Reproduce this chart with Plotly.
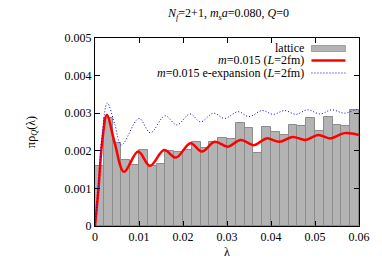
import plotly.graph_objects as go

# ---- data ----
bin_centers = [0.001, 0.003, 0.005, 0.007, 0.009, 0.011, 0.013, 0.015, 0.017, 0.019,
               0.021, 0.023, 0.025, 0.027, 0.029, 0.031, 0.033, 0.035, 0.037, 0.039,
               0.041, 0.043, 0.045, 0.047, 0.049, 0.051, 0.053, 0.055, 0.057, 0.059]
lattice = [0.00160, 0.00287, 0.00221, 0.00176, 0.00162, 0.00202, 0.00160, 0.00165, 0.00199, 0.00197,
           0.00202, 0.00223, 0.00207, 0.00223, 0.00234, 0.00231, 0.00274, 0.00261, 0.00194, 0.00263,
           0.00250, 0.00242, 0.00269, 0.00266, 0.00287, 0.00253, 0.00290, 0.00269, 0.00266, 0.00309]
bin_width = 0.002

red_lam = [0, 0.0008, 0.0016, 0.0027, 0.0045, 0.0066, 0.0098, 0.0125, 0.0157, 0.0184,
           0.0217, 0.0243, 0.0272, 0.0302, 0.0331, 0.0361, 0.0390, 0.0419, 0.0449, 0.0478,
           0.0508, 0.0534, 0.0567, 0.0600]
red_val = [0, 0.00100, 0.00220, 0.00295, 0.00220, 0.00144, 0.00198, 0.00160, 0.00202, 0.00182,
           0.00220, 0.00198, 0.00224, 0.00211, 0.00229, 0.00215, 0.00233, 0.00224, 0.00237, 0.00229,
           0.00242, 0.00233, 0.00247, 0.00242]

blue_lam = [0, 0.0008, 0.0016, 0.0028, 0.0045, 0.0060, 0.0100, 0.0126, 0.0159, 0.0186,
            0.0216, 0.0240, 0.0269, 0.0295, 0.0325, 0.0350, 0.0380, 0.0405, 0.0431, 0.0457,
            0.0483, 0.0512, 0.0538, 0.0567, 0.0593, 0.0600]
blue_val = [0, 0.00110, 0.00240, 0.00327, 0.00270, 0.00215, 0.00286, 0.00248, 0.00293, 0.00269,
            0.00298, 0.00277, 0.00300, 0.00286, 0.00304, 0.00291, 0.00307, 0.00297, 0.00307, 0.00297,
            0.00309, 0.00298, 0.00309, 0.00300, 0.00309, 0.00308]

x_ticks = [0, 0.01, 0.02, 0.03, 0.04, 0.05, 0.06]
x_ticktext = ["0", "0.01", "0.02", "0.03", "0.04", "0.05", "0.06"]
y_ticks = [0, 0.001, 0.002, 0.003, 0.004, 0.005]
y_ticktext = ["0", "0.001", "0.002", "0.003", "0.004", "0.005"]

legend_labels = ["lattice", "<i>m</i>=0.015 (<i>L</i>=2fm)", "<i>m</i>=0.015 e-expansion (<i>L</i>=2fm)"]

FONT = "Liberation Serif, Times New Roman, DejaVu Serif, serif"
BLUE_DASH = "1px,2px"

fig = go.Figure()
fig.add_trace(go.Bar(x=bin_centers, y=lattice, width=bin_width,
                     marker=dict(color="#b3b3b3", line=dict(color="#8c8c8c", width=1)),
                     name=legend_labels[0]))
fig.add_trace(go.Scatter(x=red_lam, y=red_val, mode="lines",
                         line=dict(color="#ff0000", width=2.5, shape="spline"),
                         name=legend_labels[1]))
fig.add_trace(go.Scatter(x=blue_lam, y=blue_val, mode="lines",
                         line=dict(color="#0000ff", width=1, dash=BLUE_DASH, shape="spline"),
                         name=legend_labels[2]))

# page body has an 8px margin, so the figure is drawn 8px smaller and offset
W, H = 374, 259
L, R, T, B = 87, 15, 30, 41
pw, ph = W - L - R, H - T - B
REF_L, REF_T = 95, 38  # plot-area origin in the reference image


def px(x):
    return (x - REF_L) / pw


def py(y):
    return (REF_T + ph - y) / ph


axis_common = dict(showline=True, linecolor="black", linewidth=1, mirror="allticks",
                   ticks="inside", ticklen=5, tickcolor="black", showgrid=False, zeroline=False,
                   tickfont=dict(family=FONT, size=12, color="black"))

fig.update_layout(
    width=W, height=H, margin=dict(l=L, r=R, t=T, b=B),
    plot_bgcolor="white", paper_bgcolor="white", showlegend=False, bargap=0,
    xaxis=dict(range=[0, 0.06], tickvals=x_ticks, ticktext=x_ticktext, **axis_common),
    yaxis=dict(range=[0, 0.005], tickvals=y_ticks, ticktext=y_ticktext, **axis_common),
    font=dict(family=FONT, size=12, color="black"),
)

annotations = [
    dict(text="<i>N</i><sub><i>f</i></sub>=2+1, <i>m</i><sub><i>s</i></sub><i>a</i>=0.080, <i>Q</i>=0",
         xref="paper", yref="paper", x=px(232), y=py(14), showarrow=False,
         xanchor="center", yanchor="middle", font=dict(family=FONT, size=12)),
    dict(text="πρ<sub><i>Q</i></sub>(λ)", xref="paper", yref="paper", x=px(30), y=py(132),
         textangle=-90, showarrow=False, xanchor="center", yanchor="middle",
         font=dict(family=FONT, size=12)),
    dict(text="λ", xref="paper", yref="paper", x=px(231), y=py(252), showarrow=False,
         xanchor="center", yanchor="middle", font=dict(family=FONT, size=12)),
]
legend_y = [48, 60.5, 73]
for lbl, yy in zip(legend_labels, legend_y):
    annotations.append(dict(text=lbl, xref="paper", yref="paper", x=px(312), y=py(yy),
                            showarrow=False, xanchor="right", yanchor="middle",
                            font=dict(family=FONT, size=12)))
fig.update_layout(annotations=annotations)

shapes = [
    dict(type="rect", xref="paper", yref="paper", x0=px(318), x1=px(353), y0=py(45.5), y1=py(51.5),
         fillcolor="#b3b3b3", line=dict(color="#a0a0a0", width=1)),
    dict(type="line", xref="paper", yref="paper", x0=px(318), x1=px(353), y0=py(60.5), y1=py(60.5),
         line=dict(color="#ff0000", width=2.5)),
    dict(type="line", xref="paper", yref="paper", x0=px(318), x1=px(353), y0=py(73), y1=py(73),
         line=dict(color="#0000ff", width=1, dash=BLUE_DASH)),
]
fig.update_layout(shapes=shapes)

fig.write_html("out.html")
